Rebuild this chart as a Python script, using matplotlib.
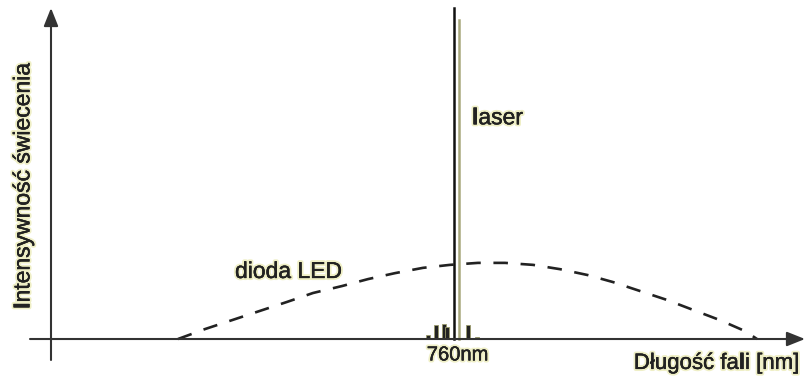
import numpy as np
import matplotlib
matplotlib.use("Agg")
import matplotlib.pyplot as plt
from matplotlib import patheffects as pe

plt.rcParams['font.family'] = ['Liberation Sans', 'DejaVu Sans']
plt.rcParams['mathtext.fontset'] = 'custom'
plt.rcParams['mathtext.rm'] = 'Liberation Sans'
plt.rcParams['mathtext.bf'] = 'Liberation Sans:bold'

# widmo diody LED (szerokie) - dlugosc fali [nm] i wzgledna intensywnosc
led_nm = [621, 634.5, 648, 662, 675.5, 688.5, 703, 716, 729.5, 743.5, 757, 771,
          784.5, 798.5, 812, 826, 838.5, 852, 865.5, 878.5, 892, 904.5, 910.5]
led_int = [0.0, 0.030, 0.057, 0.085, 0.112, 0.139, 0.160, 0.181, 0.199, 0.215,
           0.224, 0.230, 0.230, 0.224, 0.211, 0.193, 0.172, 0.145, 0.118, 0.088,
           0.057, 0.024, 0.0]

# laser: glowny prazek + mody boczne
laser_nm = [759.0, 761.5]
laser_int = [1.0, 0.964]
side_nm = [746, 750, 754, 755.5, 766, 770.5]
side_int = [0.012, 0.042, 0.045, 0.036, 0.042, 0.006]

ink = '#222222'
halo = [pe.withStroke(linewidth=3, foreground='#efefc6'),
        pe.withStroke(linewidth=0.25, foreground=ink)]

fig = plt.figure(figsize=(8.05, 3.78), dpi=100)
ax = fig.add_axes([0, 0, 1, 1])
ax.set_xlim(532, 934.5)
ax.set_ylim(-0.1178, 1.0242)
ax.axis('off')

# osie ze strzalkami
arrow = dict(arrowstyle='-|>,head_length=0.55,head_width=0.22',
             color='#333333', lw=1.5, shrinkA=0, shrinkB=0, mutation_scale=20)
ax.annotate('', xy=(934.5, 0), xytext=(547, 0), arrowprops=arrow)
ax.annotate('', xy=(557.5, 1.0), xytext=(557.5, -0.0634), arrowprops=arrow)

# LED - linia przerywana
led_line, = ax.plot(led_nm, led_int, color=ink, lw=1.9)
led_line.set_dashes((5.5, 4.8))
led_line.set_dash_capstyle('butt')

# laser
ax.plot([laser_nm[0], laser_nm[0]], [0, laser_int[0]], color='#111111', lw=1.8)
ax.plot([laser_nm[1], laser_nm[1]], [0, laser_int[1]], color='#a8a87c', lw=1.8)
ax.bar(side_nm, side_int, width=2.0, color=ink, edgecolor='#9a9a6c', lw=0.6)

# opisy
txt = dict(color=ink, path_effects=halo)
ax.text(768, 0.668, r'$\mathbf{l}$aser', fontsize=16.5, ha='left', va='center', **txt)
ax.text(649.5, 0.204, 'dioda LED', fontsize=16.5, ha='left', va='center', **txt)
ax.text(760.75, -0.048, '760nm', fontsize=14.5, ha='center', va='center', **txt)
ax.text(932, -0.074, r'Długość fa$\mathbf{l}$i [nm]', fontsize=16, ha='right',
        va='center', **txt)
ax.text(543.5, 0.465, r'$\mathbf{I}$ntensywność świecenia', fontsize=16.5,
        rotation=90, ha='center', va='center', **txt)

fig.savefig('out.png', dpi=100)
